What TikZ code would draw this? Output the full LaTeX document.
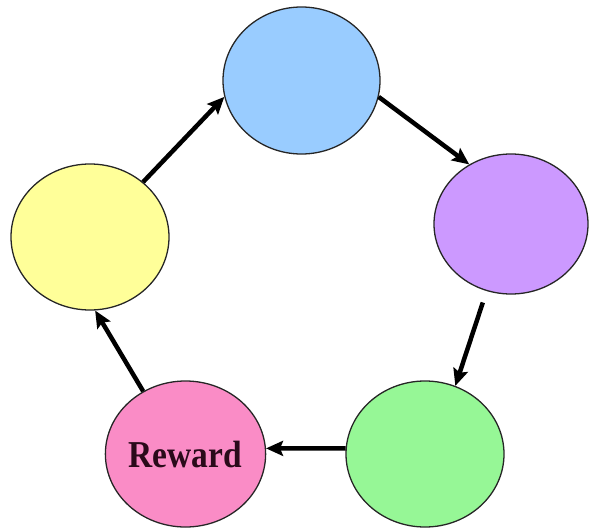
\documentclass[tikz,border=0pt]{standalone}
\usepackage{fontspec}
\setmainfont{Liberation Serif}
\usetikzlibrary{shapes.geometric,arrows.meta}
\definecolor{cblue}{HTML}{99CCFF}
\definecolor{cpurple}{HTML}{CC99FF}
\definecolor{cgreen}{HTML}{96F796}
\definecolor{cpink}{HTML}{FA8CC6}
\definecolor{cyellow}{HTML}{FFFF99}
\definecolor{ctext}{HTML}{2A0A1A}
\tikzset{
  bubble/.style={ellipse, draw=black!85, line width=1.3pt, inner sep=0pt,
    minimum width=157pt, minimum height=146pt},
  flow/.style={line width=4.5pt, -{Stealth[length=17pt,width=15pt,inset=3pt]}}
}
\begin{document}
\begin{tikzpicture}[x=1pt,y=-1pt]
\useasboundingbox (0,0) rectangle (591,530);
\node[bubble, fill=cblue, minimum height=147pt] (blue) at (301.5,80.5) {};
\node[bubble, fill=cpurple, minimum width=154pt, minimum height=140pt] (purple) at (511,224) {};
\node[bubble, fill=cgreen, minimum width=158pt] (green) at (425,454) {};
\node[bubble, fill=cpink] (pink) at (185.5,454) {\fontsize{38}{40}\selectfont\bfseries\color{ctext}\scalebox{0.88}[1]{Reward}};
\node[bubble, fill=cyellow, minimum width=158pt] (yellow) at (90,237) {};
\draw[flow] (yellow.46) -- (blue.192);
\draw[flow] (blue.-12) -- (purple.125);
\draw[flow, shorten <=12pt] (purple.250) -- (green.66);
\draw[flow] (green.176) -- (pink.4);
\draw[flow] (pink.124) -- (yellow.274);
\end{tikzpicture}
\end{document}
